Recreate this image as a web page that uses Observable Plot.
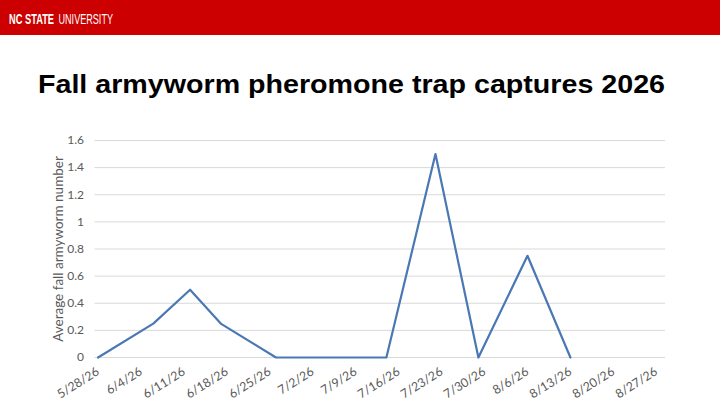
<!DOCTYPE html>
<html>
<head>
<meta charset="utf-8">
<script src="https://cdn.jsdelivr.net/npm/d3@7"></script>
<script src="https://cdn.jsdelivr.net/npm/@observablehq/plot@0.6"></script>
<style>
  html, body { margin: 0; padding: 0; background: #fff; }
  #page { position: relative; width: 720px; height: 405px; overflow: hidden; background: #fff; }
  #banner { position: absolute; left: 0; top: 0; width: 720px; height: 35px; background: #cc0000; }
  #banner svg, #title { position: absolute; left: 0; top: 0; }
  #chart { position: absolute; left: 0; top: 130px; }
  #chart g[aria-label="x-axis tick label"] text { font-size: 12.3px; }
</style>
</head>
<body>
<div id="page">
  <div id="banner">
    <svg width="200" height="35">
      <g transform="scale(1,1.6)">
        <text x="9" y="15" fill="#fff" font-family="Liberation Sans, Arial, sans-serif" font-size="9" font-weight="bold" textLength="45" lengthAdjust="spacingAndGlyphs">NC STATE</text>
        <text x="58.5" y="15" fill="#fff" font-family="Liberation Sans, Arial, sans-serif" font-size="9.1" textLength="54.5" lengthAdjust="spacingAndGlyphs">UNIVERSITY</text>
      </g>
    </svg>
  </div>
  <svg id="title" width="720" height="120">
    <text x="351.5" y="93" text-anchor="middle" fill="#000" font-family="Liberation Sans, Arial, sans-serif" font-size="25.5" font-weight="bold" textLength="627" lengthAdjust="spacingAndGlyphs">Fall armyworm pheromone trap captures 2026</text>
  </svg>
  <div id="chart"></div>
</div>
<script>
// Sample dates and average captures
const sampleDates = ["5/28/26","6/6/26","6/12/26","6/17/26","6/26/26","7/3/26","7/10/26","7/14/26","7/22/26","7/29/26","8/6/26","8/13/26"];
const avgCaptures = [0, 0.25, 0.5, 0.25, 0, 0, 0, 0, 1.5, 0, 0.75, 0];
// Axis tick labels
const xTickLabels = ["5/28/26","6/4/26","6/11/26","6/18/26","6/25/26","7/2/26","7/9/26","7/16/26","7/23/26","7/30/26","8/6/26","8/13/26","8/20/26","8/27/26"];
const yTicks = [0, 0.2, 0.4, 0.6, 0.8, 1, 1.2, 1.4, 1.6];
const yLabel = "Average fall armyworm number";

const parse = d3.utcParse("%m/%d/%y");
const data = sampleDates.map((d, i) => ({date: parse(d), value: avgCaptures[i]}));
const xTicks = xTickLabels.map(parse);
const fmt = d3.utcFormat("%-m/%-d/%y");
const halfDay = 12 * 3600 * 1000;

const chart = Plot.plot({
  width: 720,
  height: 275,
  marginTop: 10,
  marginBottom: 48,
  marginLeft: 94.5,
  marginRight: 55,
  style: {fontFamily: "Lato, 'Open Sans', sans-serif", fontSize: "12px", color: "#595959", background: "transparent"},
  x: {type: "utc", domain: [new Date(xTicks[0] - halfDay), new Date(+parse("8/28/26") + halfDay)]},
  y: {domain: [0, 1.6]},
  marks: [
    Plot.gridY(yTicks, {stroke: "#d9d9d9", strokeOpacity: 1}),
    Plot.axisY({ticks: yTicks, tickSize: 0, tickPadding: 11, tickFormat: d => String(+d.toFixed(1)),
      label: yLabel, labelAnchor: "center", labelArrow: "none", labelOffset: 42, fontSize: 12}),
    Plot.axisX({ticks: xTicks, tickSize: 0, tickPadding: 13, tickRotate: -32, tickFormat: fmt, label: null, fontSize: 12.3}),
    Plot.line(data, {x: "date", y: "value", stroke: "#4a78b5", strokeWidth: 2.2})
  ]
});
chart.querySelectorAll('[aria-label="y-axis label"] text').forEach(t => t.setAttribute("font-size", "13.5"));
document.getElementById("chart").appendChild(chart);
</script>
</body>
</html>
